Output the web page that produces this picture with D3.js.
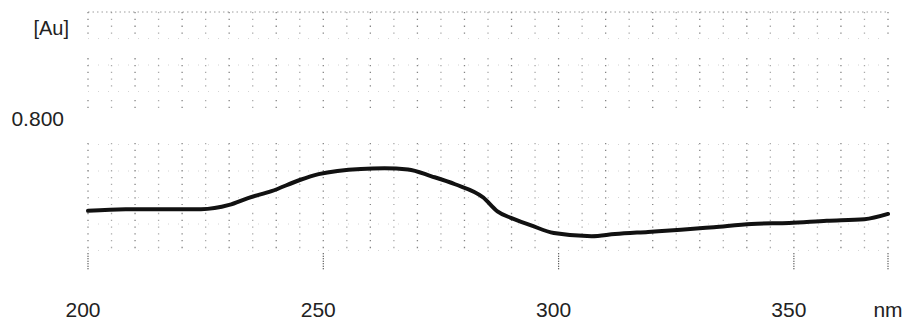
<!DOCTYPE html>
<html>
<head>
<meta charset="utf-8">
<script src="https://cdn.jsdelivr.net/npm/d3@7"></script>
<style>
  body { margin: 0; background: #fff; }
  text { font-family: "Liberation Sans", Arial, sans-serif; fill: #222; }
</style>
</head>
<body>
<script>
const width = 910
const height = 325

// spectrum
const wavelength = [200, 208, 224, 230, 234, 239, 245, 249, 258, 263, 268, 273, 278, 284, 287, 290, 294, 299, 307, 312, 319, 326, 333, 341, 349, 357, 365, 370]
const absorb = [0.625, 0.628, 0.628, 0.636, 0.649, 0.662, 0.683, 0.694, 0.704, 0.705, 0.703, 0.690, 0.675, 0.650, 0.624, 0.611, 0.598, 0.583, 0.577, 0.581, 0.585, 0.589, 0.594, 0.600, 0.602, 0.606, 0.609, 0.619]

const xTicks = [200, 250, 300, 350]
const yTicks = [0.8]
const gridX = d3.range(200, 371, 5)
const gridY = [1.0, 0.95, 0.9, 0.85, 0.75, 0.7, 0.65, 0.6, 0.55]
// the scanned grid only shows up in these bands of the y range
const gridBands = [[0.951, 1.0], [0.849, 0.913], [0.811, 0.834], [0.636, 0.753], [0.551, 0.621]]

const x = d3.scaleLinear().domain([200, 370]).range([88, 888])
const y = d3.scaleLinear().domain([0.5, 1.0]).range([277, 12])

const svg = d3.select('body').append('svg')
  .attr('width', width)
  .attr('height', height)

// faint dotted grid, like the chart paper
let grid = svg.append('g').attr('class', 'grid')

let cells = []
gridX.forEach(g => gridBands.forEach(b => cells.push({ g: g, lo: b[0], hi: b[1] })))

grid.selectAll('line.v')
  .data(cells)
  .enter()
  .append('line')
  .attr('class', 'v')
  .attr('x1', d => x(d.g))
  .attr('x2', d => x(d.g))
  .attr('y1', d => y(d.hi))
  .attr('y2', d => y(d.lo))
  .attr('stroke', '#444')
  .attr('stroke-width', 1.3)
  .attr('stroke-dasharray', '1.3,5.5')
  .attr('opacity', d => d.g % 10 === 0 ? 0.65 : 0.45)

grid.selectAll('line.h')
  .data(gridY)
  .enter()
  .append('line')
  .attr('class', 'h')
  .attr('x1', x(200))
  .attr('x2', x(370))
  .attr('y1', d => y(d))
  .attr('y2', d => y(d))
  .attr('stroke', '#777')
  .attr('stroke-width', 1)
  .attr('stroke-dasharray', d => d === 1.0 ? '1.5,3' : '1,9')
  .attr('opacity', d => d === 1.0 ? 0.7 : 0.3)

// long dotted ticks under the plot
grid.selectAll('line.major')
  .data(xTicks.concat([370]))
  .enter()
  .append('line')
  .attr('class', 'major')
  .attr('x1', d => x(d))
  .attr('x2', d => x(d))
  .attr('y1', y(0.545))
  .attr('y2', y(0.513))
  .attr('stroke', '#333')
  .attr('stroke-width', 1.2)
  .attr('stroke-dasharray', '1,1.5')

// the trace
const line = d3.line()
  .x((d, i) => x(wavelength[i]))
  .y(d => y(d))
  .curve(d3.curveMonotoneX)

svg.append('path')
  .datum(absorb)
  .attr('d', line)
  .attr('fill', 'none')
  .attr('stroke', '#111')
  .attr('stroke-width', 4)
  .attr('stroke-linejoin', 'round')
  .attr('stroke-linecap', 'round')

// labels
svg.selectAll('text.xl')
  .data(xTicks)
  .enter()
  .append('text')
  .attr('class', 'xl')
  .attr('x', d => x(d) - 5)
  .attr('y', 317)
  .attr('text-anchor', 'middle')
  .style('font-size', '21px')
  .text(d => d)

svg.append('text')
  .attr('x', x(370))
  .attr('y', 317)
  .attr('text-anchor', 'middle')
  .style('font-size', '21px')
  .text('nm')

svg.selectAll('text.yl')
  .data(yTicks)
  .enter()
  .append('text')
  .attr('class', 'yl')
  .attr('x', 64)
  .attr('y', d => y(d) + 8)
  .attr('text-anchor', 'end')
  .style('font-size', '21px')
  .text(d => d3.format('.3f')(d))

svg.append('text')
  .attr('x', 69)
  .attr('y', 35)
  .attr('text-anchor', 'end')
  .style('font-size', '20px')
  .text('[Au]')
</script>
</body>
</html>
